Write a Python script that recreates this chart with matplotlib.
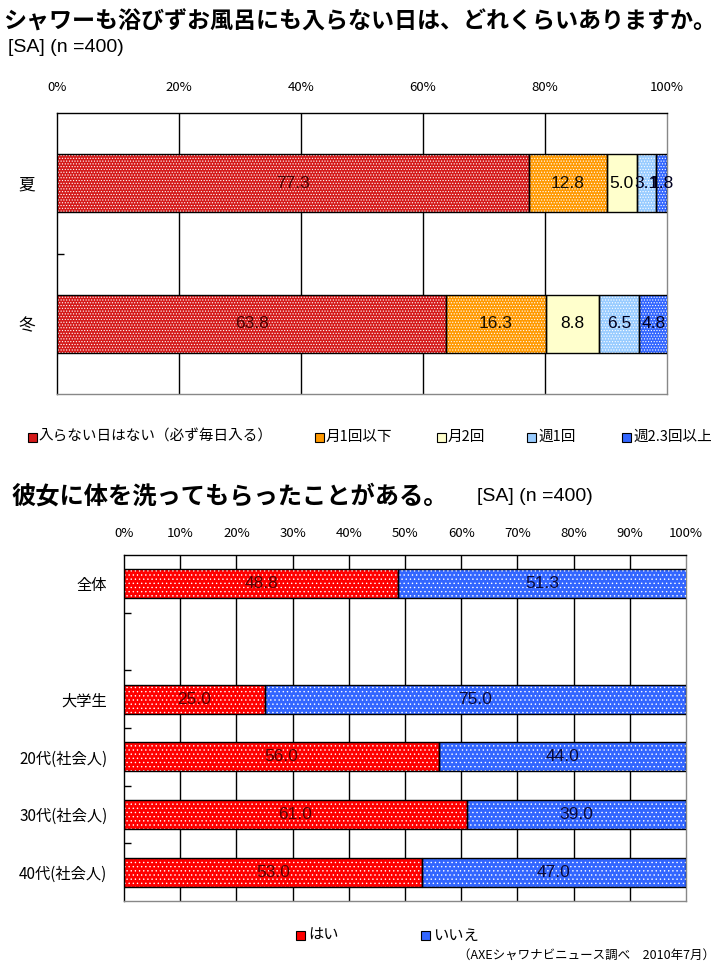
import matplotlib
matplotlib.use("Agg")
import matplotlib.pyplot as plt
import numpy as np

plt.rcParams['font.family'] = ['Noto Sans CJK JP', 'DejaVu Sans']
plt.rcParams['hatch.linewidth'] = 0.5

# ---- data: chart 1 ----
title1 = "シャワーも浴びずお風呂にも入らない日は、どれくらいありますか。"
sub1 = "[SA] (n =400)"
cats1 = ["夏", "冬"]
series1_names = ["入らない日はない（必ず毎日入る）", "月1回以下", "月2回", "週1回", "週2.3回以上"]
series1_vals = [
    [77.3, 63.8],
    [12.8, 16.3],
    [5.0, 8.8],
    [3.1, 6.5],
    [1.8, 4.8],
]
series1_labels = [
    ["77.3", "63.8"],
    ["12.8", "16.3"],
    ["5.0", "8.8"],
    ["3.1", "6.5"],
    ["1.8", "4.8"],
]
ticks1 = [0, 20, 40, 60, 80, 100]

# ---- data: chart 2 ----
title2 = "彼女に体を洗ってもらったことがある。"
sub2 = "[SA] (n =400)"
cats2 = ["全体", "", "大学生", "20代(社会人)", "30代(社会人)", "40代(社会人)"]
yes_vals = [48.8, None, 25.0, 56.0, 61.0, 53.0]
no_vals = [51.3, None, 75.0, 44.0, 39.0, 47.0]
series2_names = ["はい", "いいえ"]
ticks2 = [0, 10, 20, 30, 40, 50, 60, 70, 80, 90, 100]
source = "（AXEシャワナビニュース調べ　2010年7月）"

colors1 = ['#d41a1a', '#ff9900', '#ffffcc', '#99ccff', '#3366ff']
hatches1 = ['......', '......', None, '......', '......']
textc1 = ['#4a0000', '#1a1000', '#000000', '#000020', '#000020']
colors2 = ['#ff0000', '#3366ff']
textc2 = ['#5a0000', '#0a0a3a']

W, H = 728, 966
fig = plt.figure(figsize=(W/100, H/100), dpi=100)


def fx(px):
    return px / W


def fy(py):
    return 1 - py / H


def hbar(ax, y, left, width, h, color, hatch):
    ax.barh(y, width, left=left, height=h, color=color, hatch=hatch,
            edgecolor='white' if hatch else color, linewidth=0, zorder=3)
    ax.barh(y, width, left=left, height=h, facecolor='none',
            edgecolor='black', linewidth=1.0, zorder=4)


def style_axes(ax, ticks, ncat, tickfs):
    ax.set_xlim(0, 100)
    ax.set_ylim(ncat - 0.5, -0.5)
    ax.set_xticks(ticks)
    ax.set_xticklabels([f"{t}%" for t in ticks], fontsize=tickfs)
    ax.xaxis.tick_top()
    ax.tick_params(axis='x', length=0, pad=14)
    for t in ticks[1:-1]:
        ax.axvline(t, color='black', lw=1.0, zorder=1)
    for s in ['top', 'left']:
        ax.spines[s].set_color('black')
        ax.spines[s].set_linewidth(1.0)
    for s in ['right', 'bottom']:
        ax.spines[s].set_color('#888888')
        ax.spines[s].set_linewidth(1.0)
    ax.set_yticks(np.arange(ncat - 1) + 0.5, minor=True)
    ax.tick_params(axis='y', which='minor', direction='in', length=5, width=1, color='black')
    ax.tick_params(axis='y', which='major', length=0)


# ---- chart 1 ----
fig.text(fx(3), fy(22), title1, fontsize=16.6, fontweight='bold', va='center', ha='left')
fig.text(fx(8), fy(48), sub1, fontsize=14, family='Liberation Sans', va='center', ha='left')

ax1 = fig.add_axes([fx(57), fy(394), fx(667) - fx(57), fy(113) - fy(394)])
y1 = np.arange(len(cats1))
left = np.zeros(len(cats1))
for i, vals in enumerate(series1_vals):
    v = np.array(vals)
    for j in range(len(cats1)):
        hbar(ax1, y1[j], left[j], v[j], 0.41, colors1[i], hatches1[i])
        ax1.text(left[j] + v[j] / 2, y1[j], series1_labels[i][j], ha='center', va='center',
                 fontsize=12.5, color=textc1[i], family='Liberation Sans', zorder=5)
    left += v
style_axes(ax1, ticks1, len(cats1), 9.5)
ax1.tick_params(axis='x', pad=14)
ax1.set_yticks(y1)
ax1.set_yticklabels(cats1, fontsize=12)
ax1.tick_params(axis='y', which='major', pad=16)

# legend 1
leg1_x = [28, 315, 437, 527, 622]
for i, name in enumerate(series1_names):
    x0 = leg1_x[i]
    fig.patches.append(plt.Rectangle((fx(x0), fy(442)), fx(9), 9 / H, transform=fig.transFigure,
                                     facecolor=colors1[i], edgecolor='black', lw=0.8))
    fig.text(fx(x0 + 11), fy(437), name, fontsize=10.5, va='center', ha='left')

# ---- chart 2 ----
fig.text(fx(12), fy(496), title2, fontsize=17.5, fontweight='bold', va='center', ha='left')
fig.text(fx(477), fy(496), sub2, fontsize=14, family='Liberation Sans', va='center', ha='left')

ax2 = fig.add_axes([fx(124), fy(901), fx(686) - fx(124), fy(555) - fy(901)])
y2 = np.arange(len(cats2))
for j in range(len(cats2)):
    if yes_vals[j] is None:
        continue
    hbar(ax2, y2[j], 0, yes_vals[j], 0.5, colors2[0], '....')
    hbar(ax2, y2[j], yes_vals[j], no_vals[j], 0.5, colors2[1], '....')
    ax2.text(yes_vals[j] / 2, y2[j], f"{yes_vals[j]:.1f}", ha='center', va='center',
             fontsize=12.5, color=textc2[0], family='Liberation Sans', zorder=5)
    ax2.text(yes_vals[j] + no_vals[j] / 2, y2[j], f"{no_vals[j]:.1f}", ha='center', va='center',
             fontsize=12.5, color=textc2[1], family='Liberation Sans', zorder=5)
style_axes(ax2, ticks2, len(cats2), 9.5)
ax2.tick_params(axis='x', pad=11)
ax2.set_yticks(y2)
ax2.set_yticklabels(cats2, fontsize=11)
ax2.tick_params(axis='y', which='major', pad=12)

# legend 2
leg2_x = [296, 421]
for i, name in enumerate(series2_names):
    x0 = leg2_x[i]
    fig.patches.append(plt.Rectangle((fx(x0), fy(940)), fx(9), 9 / H, transform=fig.transFigure,
                                     facecolor=colors2[i], edgecolor='black', lw=0.8))
    fig.text(fx(x0 + 12), fy(935), name, fontsize=11, va='center', ha='left')

fig.text(fx(715), fy(955), source, fontsize=9, va='center', ha='right')

fig.savefig("out.png", dpi=100)
